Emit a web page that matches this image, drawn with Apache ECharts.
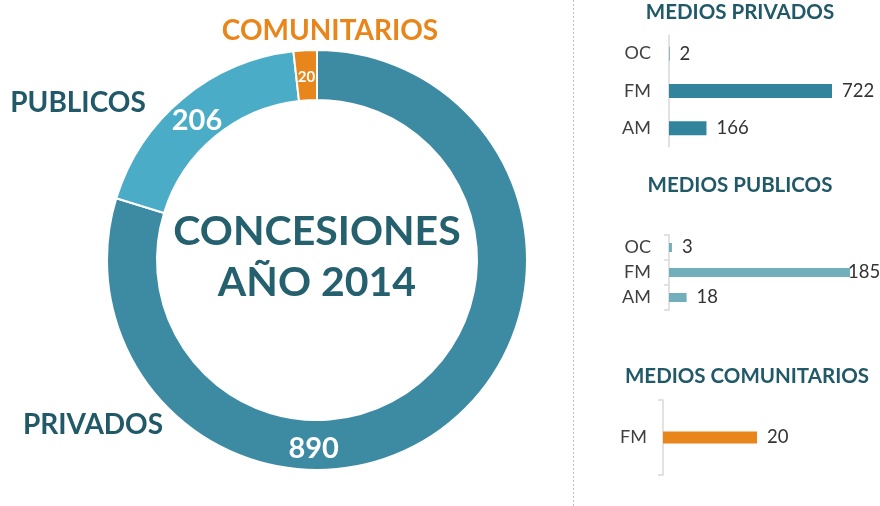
<!DOCTYPE html>
<html><head><meta charset="utf-8">
<script src="https://cdn.jsdelivr.net/npm/echarts@6/dist/echarts.min.js"></script>
<style>html,body{margin:0;padding:0;background:#fff}#c{width:880px;height:506px}</style>
</head><body><div id="c"></div>
<script>
const donutCategories = ['PRIVADOS', 'PUBLICOS', 'COMUNITARIOS'];
const donutValues = [890, 206, 20];
const centerTitle = ['CONCESIONES', 'AÑO 2014'];
const panelTitles = ['MEDIOS PRIVADOS', 'MEDIOS PUBLICOS', 'MEDIOS COMUNITARIOS'];
const privCats = ['OC', 'FM', 'AM'];
const privValues = [2, 722, 166];
const pubCats = ['OC', 'FM', 'AM'];
const pubValues = [3, 185, 18];
const comCats = ['FM'];
const comValues = [20];

const donutColors = ['#3d8ba3', '#4aacc6', '#e9861b'];
const teal = '#215968';
const F = 'Lato, "DejaVu Sans", sans-serif';
const CX = 317, CY = 260;

const chart = echarts.init(document.getElementById('c'));

function barGrid(i, left, top, width, height) {
  return { left, top, width, height, containLabel: false };
}
function catAxis(i, cats, showTicks, margin) {
  return {
    type: 'category', gridIndex: i, data: cats, inverse: true,
    axisLine: { show: true, lineStyle: { color: '#d9d9d9', width: 1.5 } },
    axisTick: { show: showTicks, length: 5, lineStyle: { color: '#d9d9d9', width: 1.5 } },
    axisLabel: { color: '#404040', fontSize: 18, fontFamily: F, margin }
  };
}
function valAxis(i, max) {
  return { type: 'value', gridIndex: i, min: 0, max, show: false, splitLine: { show: false } };
}
function barSeries(i, vals, color, bw) {
  return {
    type: 'bar', xAxisIndex: i, yAxisIndex: i, data: vals, barWidth: bw,
    itemStyle: { color },
    label: { show: true, position: 'right', distance: 10, color: '#333', fontSize: 18.5, fontFamily: F },
    silent: true
  };
}

const pubData = pubValues.map((v, k) => v === Math.max(...pubValues)
  ? { value: v, label: { distance: -2 } } : v);

chart.setOption({
  animation: false,
  grid: [
    barGrid(0, 669, 35, 163, 112),
    barGrid(1, 669, 235, 181, 75),
    barGrid(2, 663, 400, 94, 75)
  ],
  xAxis: [valAxis(0, Math.max(...privValues)), valAxis(1, Math.max(...pubValues)), valAxis(2, Math.max(...comValues))],
  yAxis: [catAxis(0, privCats, false, 18), catAxis(1, pubCats, true, 18), catAxis(2, comCats, true, 16)],
  series: [
    {
      type: 'pie', center: [CX, CY], radius: [160, 210], startAngle: 90, clockwise: true,
      silent: true,
      itemStyle: { borderColor: '#fff', borderWidth: 2 },
      label: { show: true, position: 'inside', color: '#fff', fontWeight: 'bold', fontFamily: F, fontSize: 29,
        formatter: p => String(p.value) },
      labelLine: { show: false },
      labelLayout: function (p) {
        if (p.dataIndex === 0) {
          const a = 181 * Math.PI / 180, r = 189;
          return { x: CX + r * Math.sin(a), y: CY - r * Math.cos(a), align: 'center', verticalAlign: 'middle' };
        }
        return { dy: 5 };
      },
      data: donutValues.map((v, k) => ({
        value: v, name: donutCategories[k], itemStyle: { color: donutColors[k] },
        label: k === 2 ? { fontSize: 15 } : {}
      }))
    },
    barSeries(0, privValues, '#31849b', 14),
    barSeries(1, pubData, '#71afbb', 9),
    barSeries(2, comValues, '#e9861b', 12)
  ],
  graphic: [
    { type: 'line', shape: { x1: 573.5, y1: 0, x2: 573.5, y2: 506 }, style: { stroke: '#bfbfbf', lineWidth: 1, lineDash: [2, 2] } },
    { type: 'text', x: CX, y: 232, style: { text: centerTitle[0], fill: '#24606e', font: 'bold 41px ' + F, textAlign: 'center', textVerticalAlign: 'middle' } },
    { type: 'text', x: CX, y: 283, style: { text: centerTitle[1], fill: '#24606e', font: 'bold 41px ' + F, textAlign: 'center', textVerticalAlign: 'middle' } },
    { type: 'text', x: 330, y: 31, style: { text: donutCategories[2], fill: '#e9861b', font: 'bold 28px ' + F, textAlign: 'center', textVerticalAlign: 'middle' } },
    { type: 'text', x: 78, y: 103, style: { text: donutCategories[1], fill: teal, font: 'bold 28px ' + F, textAlign: 'center', textVerticalAlign: 'middle' } },
    { type: 'text', x: 93, y: 425, style: { text: donutCategories[0], fill: teal, font: 'bold 28px ' + F, textAlign: 'center', textVerticalAlign: 'middle' } },
    { type: 'text', x: 740, y: 12, style: { text: panelTitles[0], fill: teal, font: 'bold 20.5px ' + F, textAlign: 'center', textVerticalAlign: 'middle' } },
    { type: 'text', x: 740, y: 185, style: { text: panelTitles[1], fill: teal, font: 'bold 20.5px ' + F, textAlign: 'center', textVerticalAlign: 'middle' } },
    { type: 'text', x: 747, y: 376, style: { text: panelTitles[2], fill: teal, font: 'bold 20.5px ' + F, textAlign: 'center', textVerticalAlign: 'middle' } }
  ]
});
</script></body></html>
